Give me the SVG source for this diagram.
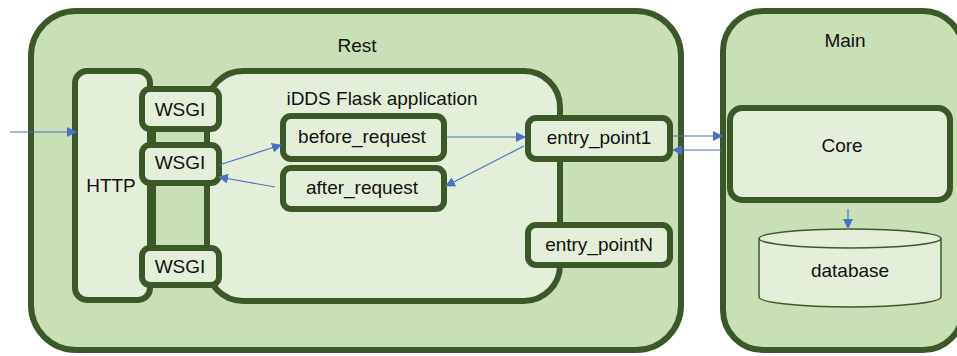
<svg xmlns="http://www.w3.org/2000/svg" width="957" height="356" viewBox="0 0 957 356">
<defs>
<style>
.outer{fill:#c9dfb6;stroke:#3b5829;stroke-width:6}
.inner{fill:#e3efd9;stroke:#3b5829;stroke-width:6}
.col{fill:#c9dfb6;stroke:#3b5829;stroke-width:6}
.db{fill:#e3efd9;stroke:#3b5829;stroke-width:1.5}
.t{font-family:"Liberation Sans",Arial,sans-serif;font-size:19px;fill:#111;text-anchor:middle}
.c{stroke:#4a72c4;stroke-width:1.2;fill:none}
</style>
<marker id="ah" viewBox="0 0 10 10" refX="9" refY="5" markerWidth="10" markerHeight="10" markerUnits="userSpaceOnUse" orient="auto">
<path d="M0,0 L10,5 L0,10 z" fill="#4a72c4"/>
</marker>
</defs>
<rect width="957" height="356" fill="#ffffff"/>
<g id="rest">
<rect class="outer" x="31" y="11" width="650" height="339" rx="45"/>
<text class="t" x="357" y="52">Rest</text>
</g>
<g id="main">
<rect class="outer" x="723" y="11" width="240" height="339" rx="40"/>
<text class="t" x="845" y="47">Main</text>
</g>
<g id="http">
<rect class="inner" x="75" y="71" width="75" height="229" rx="12"/>
<text class="t" x="111" y="192">HTTP</text>
</g>
<g id="flask-app">
<rect class="inner" x="207" y="71" width="353" height="230" rx="36"/>
<text class="t" x="382" y="105">iDDS Flask application</text>
</g>
<g id="wsgi-column">
<rect class="col" x="153" y="110" width="54" height="160"/>
</g>
<g id="wsgi1">
<rect class="inner" x="142" y="89" width="77" height="40" rx="8"/>
<text class="t" x="180" y="116">WSGI</text>
</g>
<g id="wsgi2">
<rect class="inner" x="142" y="145" width="77" height="38" rx="8"/>
<text class="t" x="180" y="169">WSGI</text>
</g>
<g id="wsgi3">
<rect class="inner" x="142" y="248" width="77" height="37" rx="8"/>
<text class="t" x="180" y="273">WSGI</text>
</g>
<g id="before_request">
<rect class="inner" x="283" y="116" width="161" height="43" rx="8"/>
<text class="t" x="362" y="143">before_request</text>
</g>
<g id="after_request">
<rect class="inner" x="283" y="168" width="161" height="41" rx="8"/>
<text class="t" x="362" y="194">after_request</text>
</g>
<g id="entry_point1">
<rect class="inner" x="528" y="118" width="142" height="41" rx="8"/>
<text class="t" x="599" y="144">entry_point1</text>
</g>
<g id="entry_pointN">
<rect class="inner" x="528" y="225" width="142" height="40" rx="8"/>
<text class="t" x="599" y="251">entry_pointN</text>
</g>
<g id="core">
<rect class="inner" x="730" y="108" width="220" height="92" rx="12"/>
<text class="t" x="842" y="152">Core</text>
</g>
<g id="database">
<path class="db" d="M759,238.5 L759,297 A91,10 0 0 0 941,297 L941,238.5"/>
<ellipse class="db" cx="850" cy="238.5" rx="91" ry="9.5"/>
<text class="t" x="850" y="277">database</text>
</g>
<g id="connectors">
<line class="c" x1="10" y1="132" x2="76" y2="132" marker-end="url(#ah)"/>
<line class="c" x1="219" y1="165" x2="281" y2="145" marker-end="url(#ah)"/>
<line class="c" x1="275" y1="187" x2="219" y2="177" marker-end="url(#ah)"/>
<line class="c" x1="446" y1="137" x2="525" y2="137" marker-end="url(#ah)"/>
<line class="c" x1="524" y1="146" x2="446" y2="186" marker-end="url(#ah)"/>
<line class="c" x1="673" y1="136" x2="722" y2="136" marker-end="url(#ah)"/>
<line class="c" x1="722" y1="150" x2="673" y2="150" marker-end="url(#ah)"/>
<line class="c" x1="848" y1="209" x2="848" y2="228" marker-end="url(#ah)"/>
</g>
</svg>
